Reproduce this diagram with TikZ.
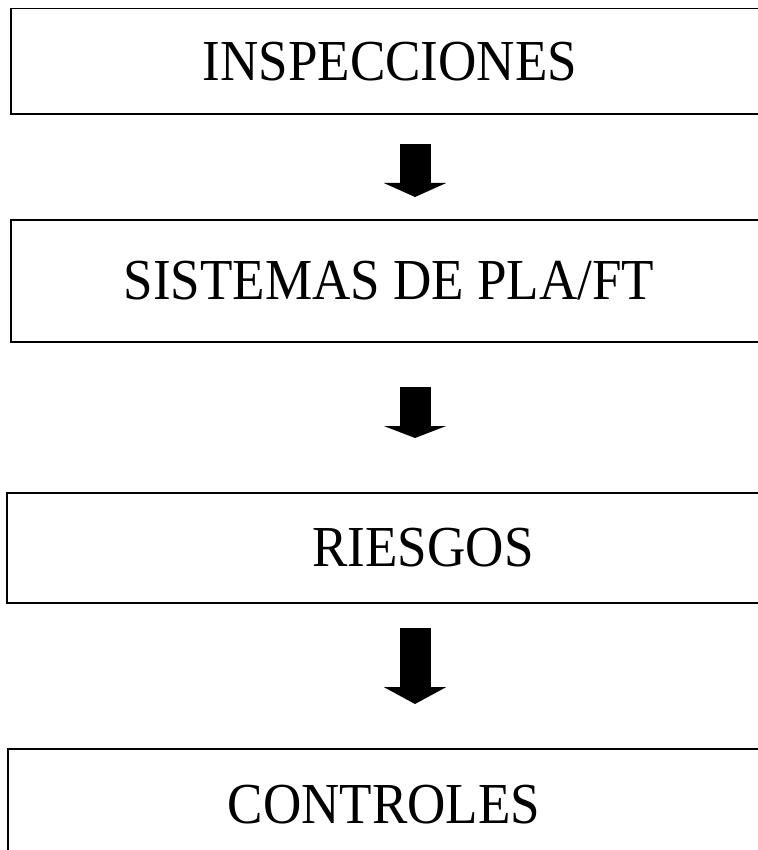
\documentclass[tikz,border=0pt]{standalone}
\usepackage{graphicx}
\usepackage{fontspec}
\setmainfont{Liberation Serif}
\usetikzlibrary{arrows.meta}
\newcommand{\etapa}[1]{\scalebox{0.915}[1]{\fontsize{58}{60}\selectfont #1}}

\begin{document}
\begin{tikzpicture}[x=1pt, y=-1pt,
  caja/.style={draw=black, line width=1.8pt, rectangle, inner sep=0pt},
  flecha/.style={line width=31pt, -{Triangle[width=62pt,length=#1]}}]
\useasboundingbox (0,0) rectangle (757,850);

\node (b1) [caja, minimum width=758pt, minimum height=105.5pt] at (390,61.25) {\etapa{INSPECCIONES}};
\node (b2) [caja, minimum width=756pt, minimum height=122pt] at (389,281) {\etapa{SISTEMAS DE PLA/FT}};
\node (b3) [caja, minimum width=832pt, minimum height=110pt] at (423,548) {\etapa{RIESGOS}};
\node (b4) [caja, minimum width=752pt, minimum height=112pt] at (384,805) {\etapa{CONTROLES}};

% flechas entre cajas
\coordinate (f1a) at (415,144);
\coordinate (f1b) at (415,197);
\coordinate (f2a) at (415,387);
\coordinate (f2b) at (415,438);
\coordinate (f3a) at (415,628);
\coordinate (f3b) at (415,704);

\draw [flecha=14pt] (f1a) -- (f1b);
\draw [flecha=12pt] (f2a) -- (f2b);
\draw [flecha=17pt] (f3a) -- (f3b);

\end{tikzpicture}
\end{document}
